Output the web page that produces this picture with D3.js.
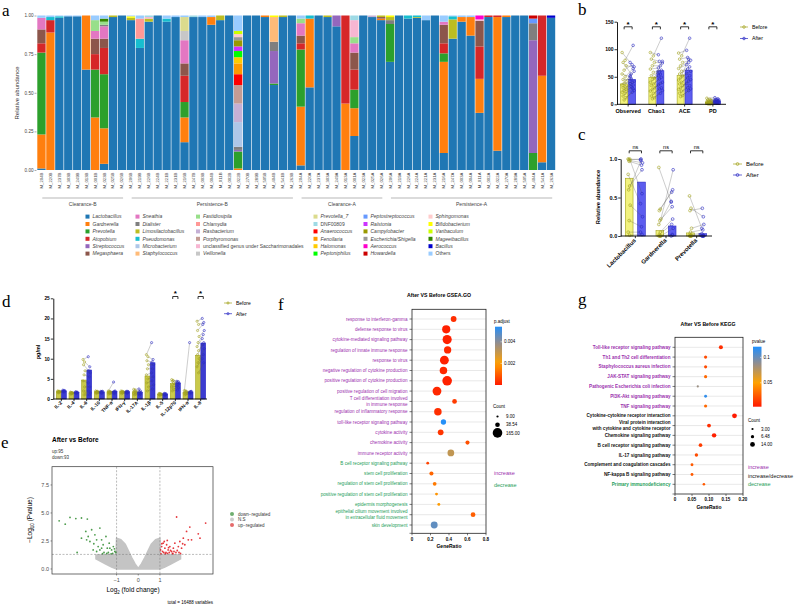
<!DOCTYPE html>
<html>
<head>
<meta charset="utf-8">
<script src="https://cdn.jsdelivr.net/npm/d3@7"></script>
<style>
  body { margin: 0; background: #fff; }
  svg { font-family: "Liberation Sans", Arial, sans-serif; }
  .letter { font-family: "Liberation Serif", "DejaVu Serif", serif; font-size: 17px; }
</style>
</head>
<body>
<svg id="fig" width="795" height="607"></svg>
<script>
// ---------- panel a data ----------
const taxa = ['Lactobacillus','Gardnerella','Prevotella','Atopobium','Streptococcus','Megasphaera',
  'Sneathia','Dialister','Limosilactobacillus','Pseudomonas','Microbacterium','Staphylococcus',
  'Fastidiosipila','Chlamydia','Rasbacterium','Porphyromonas','unclassified genus under Saccharimonadales','Veillonella',
  'Prevotella_7','DNF00809','Anaerococcus','Fenollaria','Halomonas','Peptoniphilus',
  'Peptostreptococcus','Ralstonia','Campylobacter','Escherichia/Shigella','Aerococcus','Howardella',
  'Sphingomonas','Bifidobacterium','Varibaculum','Mageeibacillus','Bacillus','Others'];
const taxaColors = ['#1f77b4','#ff7f0e','#2ca02c','#d62728','#9467bd','#8c564b',
  '#e377c2','#7f7f7f','#bcbd22','#17becf','#aec7e8','#ffbb78',
  '#98df8a','#ff9896','#c5b0d5','#c49c94','#f7b6d2','#c7c7c7',
  '#dbdb8d','#9edae5','#ff0000','#ff9900','#ffcc00','#00ff00',
  '#6699ff','#cc33ff','#999900','#999999','#ff00cc','#cc0000',
  '#ffcccc','#ffff00','#ccff00','#338800','#0000cc','#99ccff'];
const plainTaxa = ['unclassified genus under Saccharimonadales','DNF00809','Others'];
const sampleIds = ['M_204B','M_220B','M_237B','M_303B','M_249B','M_013B','M_001B','M_023B','M_025B','M_026B',
  'M_206B','M_219B','M_226B','M_224B','M_221B','M_231B','M_216B','M_247B','M_003B','M_004B',
  'M_011B','M_002B','M_022B','M_270B','M_289B','M_505B','M_404B','M_541B','M_263B',
  'M_204A','M_220A','M_237A','M_303A','M_249A','M_013A','M_001A','M_023A','M_025A','M_026A',
  'M_206A','M_219A','M_226A','M_224A','M_221A','M_231A','M_216A','M_247A','M_003A','M_004A',
  'M_011A','M_002A','M_022A','M_270A','M_289A','M_505A','M_404A','M_541A','M_263A'];
const groupNames = ['Clearance-B','Persistence-B','Clearance-A','Persistence-A'];
const groupSizes = [10, 19, 10, 19];
// [taxon index, relative abundance]; what is left goes to Others
const sampleMix = [
  [[0,.01],[1,.22],[2,.53],[3,.06],[5,.09],[6,.075]],
  [[1,.89],[3,.08],[9,.02]],
  [[0,.985],[9,.01]],
  [[0,.995]],
  [[0,.995]],
  [[0,.65],[1,.35]],
  [[1,.34],[2,.31],[3,.10],[5,.10],[6,.05],[12,.07]],
  [[0,.04],[1,.23],[2,.35],[3,.17],[5,.06],[6,.08],[7,.01],[12,.02],[33,.02]],
  [[0,.99],[8,.01]],
  [[0,1]],
  [[0,.97],[8,.015],[31,.01]],
  [[0,.79],[9,.06],[13,.13]],
  [[0,.96],[8,.02],[16,.01],[19,.01]],
  [[0,1]],
  [[0,.96],[9,.02]],
  [[0,.99]],
  [[0,.18],[1,.16],[2,.10],[3,.17],[5,.08],[6,.15],[17,.06],[18,.09]],
  [[0,.99],[19,.01]],
  [[0,.99]],
  [[0,.94],[1,.05]],
  [[0,.97],[8,.03]],
  [[0,1]],
  [[1,.01],[2,.11],[4,.01],[7,.02],[10,.16],[14,.12],[15,.12],[20,.07],[21,.07],[22,.04],[23,.04],[25,.03],[26,.04],[27,.02],[30,.02],[32,.02]],
  [[0,1]],
  [[0,1]],
  [[0,.99],[1,.01]],
  [[0,.55],[2,.01],[4,.21],[7,.06],[11,.16],[31,.01]],
  [[0,.99],[8,.01]],
  [[0,1]],
  [[0,.03],[1,.38],[2,.37],[3,.04],[5,.05],[6,.08],[12,.03]],
  [[0,.535],[1,.445],[9,.02]],
  [[0,1]],
  [[0,.99],[8,.01]],
  [[0,.93],[4,.07]],
  [[1,.43],[3,.57]],
  [[0,.22],[1,.18],[2,.12],[3,.13],[5,.11],[6,.06],[12,.04],[16,.11],[19,.03]],
  [[0,1]],
  [[0,.99],[14,.01]],
  [[0,.97],[1,.01],[5,.01],[8,.01]],
  [[0,.70],[2,.245],[7,.025],[8,.02],[31,.01]],
  [[0,1]],
  [[0,.98],[9,.02]],
  [[0,.985],[8,.005],[9,.01]],
  [[0,.97]],
  [[0,1]],
  [[0,.11],[1,.59],[2,.055],[3,.065],[5,.12],[6,.02]],
  [[0,.85],[8,.125],[9,.02]],
  [[0,.96],[1,.03]],
  [[0,.87],[1,.12]],
  [[0,.37],[1,.22],[3,.21],[5,.166],[16,.009],[28,.025]],
  [[0,.99],[3,.01]],
  [[0,.125],[1,.865],[3,.01]],
  [[0,.99],[1,.01]],
  [[0,1]],
  [[0,1]],
  [[2,.11],[4,.73],[7,.11],[24,.03],[29,.02]],
  [[0,.05],[1,.56],[3,.39]],
  [[0,.985],[34,.015]]
];

// ---------- panel b data ----------
const alphaCats = ['Observed','Chao1','ACE','PD'];
const alphaBarBefore = [37, 49, 52, 3];
const alphaBarAfter = [45, 61, 62, 6];
const observedBefore = [94, 80, 76, 70, 62, 55, 50, 45, 42, 38, 35, 32, 30, 27, 25, 22, 20, 15, 12, 8];
const observedAfter = [76, 107, 55, 68, 72, 50, 65, 45, 60, 40, 52, 35, 47, 42, 30, 38, 28, 32, 25, 22];
const chao1Before = [94, 88, 82, 76, 70, 64, 58, 52, 48, 45, 40, 37, 34, 30, 27, 24, 20, 15, 12, 10];
const chao1After = [90, 120, 78, 75, 70, 66, 62, 58, 78, 55, 52, 49, 46, 40, 38, 35, 30, 28, 25, 20];
const aceBefore = [93, 88, 82, 76, 70, 65, 60, 55, 52, 48, 44, 40, 37, 34, 30, 27, 24, 20, 16, 14];
const aceAfter = [98, 120, 85, 80, 76, 72, 68, 64, 60, 82, 56, 52, 48, 45, 42, 38, 34, 30, 28, 25];
const pdBefore = [11, 9, 8, 7, 6, 5, 5, 4, 4, 3, 3, 3, 2, 2, 2, 2, 1, 1, 1, 1];
const pdAfter = [12, 10, 9, 8, 8, 7, 7, 6, 6, 5, 5, 5, 4, 4, 4, 3, 3, 3, 2, 2];

// ---------- panel c data ----------
const genusCats = ['Lactobacillus','Gardnerella','Prevotella'];
const genusBarBefore = [0.75, 0.07, 0.04];
const genusBarAfter = [0.70, 0.13, 0.03];
const lactoBefore = [1.0, 1.0, 0.99, 0.98, 0.97, 0.8, 0.65, 0.6, 0.4, 0.2, 0.05, 0.01];
const lactoAfter = [0.99, 0.55, 1.0, 0.95, 0.92, 0.42, 0.86, 0.98, 0.25, 0.12, 0.05, 0.02];
const gardBefore = [0.89, 0.35, 0.33, 0.22, 0.20, 0.15, 0.05, 0.02, 0.0, 0.0, 0.0, 0.0];
const gardAfter = [0.44, 0.60, 0.57, 0.86, 0.38, 0.45, 0.22, 0.15, 0.10, 0.02, 0.0, 0.01];
const prevBefore = [0.52, 0.36, 0.33, 0.10, 0.05, 0.02, 0.01, 0.0, 0.0, 0.0, 0.0, 0.0];
const prevAfter = [0.10, 0.25, 0.36, 0.15, 0.08, 0.03, 0.01, 0.0, 0.0, 0.0, 0.0, 0.0];

// ---------- panel d data ----------
const cytokines = ['IL-2','IL-4','IL-6','IL-10','TNF-α','IFN-γ','IL-17A','IL-1β','IL-5','IL-12p70','IFN-α','IL-8'];
const cytoBarBefore = [1.8, 1.5, 4.7, 1.8, 1.8, 1.8, 1.8, 5.7, 1.2, 3.8, 1.6, 10.8];
const cytoBarAfter = [2.0, 1.6, 7.2, 1.7, 1.9, 1.8, 1.7, 9.0, 1.2, 4.0, 1.7, 13.9];
const cytoBefore = [
  [2.0, 1.9, 1.9, 1.8, 1.8, 1.7, 1.6, 1.5],
  [1.7, 1.6, 1.6, 1.5, 1.5, 1.4, 1.3, 1.2],
  [9.8, 9.2, 8.5, 7.0, 6.0, 4.5, 3.0, 2.0, 1.5, 1.0],
  [2.0, 1.9, 1.8, 1.8, 1.7, 1.6, 1.5, 1.4],
  [2.0, 1.9, 1.8, 1.7, 1.6, 1.5, 1.4, 1.2],
  [2.0, 1.9, 1.8, 1.8, 1.7, 1.6, 1.5, 1.3],
  [2.4, 2.2, 2.0, 1.8, 1.6, 1.4, 1.2, 1.0],
  [11.0, 10.5, 9.5, 8.5, 7.5, 6.0, 5.0, 4.0, 3.0, 2.0],
  [1.4, 1.3, 1.3, 1.2, 1.2, 1.1, 1.0, 0.9],
  [4.8, 4.6, 4.4, 4.0, 3.6, 3.0, 2.5, 2.0],
  [2.1, 2.0, 1.9, 1.8, 1.6, 1.4, 1.2, 1.0],
  [19.3, 18.5, 17.0, 15.5, 14.0, 13.0, 12.0, 11.0, 10.0, 9.0, 8.0, 6.5]
];
const cytoAfter = [
  [2.2, 2.1, 2.0, 2.0, 1.9, 1.9, 1.8, 1.7],
  [1.8, 1.7, 1.7, 1.6, 1.6, 1.5, 1.5, 1.4],
  [10.5, 8.0, 7.0, 6.5, 5.5, 4.0, 3.0, 2.0, 1.5, 1.0],
  [1.9, 1.9, 1.8, 1.8, 1.7, 1.6, 1.5, 1.4],
  [4.2, 2.0, 1.9, 1.8, 1.7, 1.6, 1.5, 1.3],
  [1.9, 1.9, 1.8, 1.8, 1.7, 1.6, 1.5, 1.4],
  [2.5, 2.0, 1.8, 1.6, 1.5, 1.4, 1.2, 1.0],
  [14.0, 9.8, 9.2, 8.5, 7.5, 6.5, 5.5, 4.5, 3.5, 2.5],
  [1.4, 1.3, 1.3, 1.2, 1.2, 1.1, 1.0, 0.9],
  [4.4, 4.3, 4.1, 3.9, 3.6, 3.2, 2.8, 2.2],
  [14.0, 1.9, 1.8, 1.8, 1.7, 1.6, 1.5, 1.3],
  [20.0, 19.0, 18.5, 17.0, 16.0, 15.0, 14.0, 13.5, 12.5, 11.0, 10.0, 9.0]
];

// ---------- panel e data ----------
const downGenes = [[-3.65,4.3],[-3.37,4.0],[-3.15,4.6],[-2.88,4.5],[-2.62,4.55],[-2.35,4.45],[-2.82,1.47],
  [-2.62,2.75],[-2.42,3.35],[-2.31,2.9],[-2.15,3.5],[-2.0,3.05],[-1.92,2.6],[-1.77,3.65],[-1.69,2.6],
  [-1.62,2.16],[-1.49,2.9],[-1.43,1.86],[-1.34,2.3],[-1.23,1.7],[-1.15,2.0],[-1.08,1.56],[-1.77,1.7],
  [-1.58,1.47],[-1.38,1.47],[-1.18,1.4],[-1.85,2.0],[-2.05,2.25],[-2.23,2.45],[-1.92,1.56],[-1.69,1.86],
  [-1.31,1.86],[-1.03,1.47],[-2.38,2.6],[-2.08,1.7],[-1.25,1.35],[-1.45,1.38],[-1.65,1.36],[-1.1,1.8]];
const upGenes = [[1.08,2.0],[1.15,2.3],[1.23,1.86],[1.31,2.16],[1.38,1.7],[1.46,2.0],[1.54,1.56],[1.62,1.86],
  [1.69,2.3],[1.77,4.64],[1.85,2.0],[1.92,2.45],[2.0,1.86],[2.08,2.75],[2.15,2.16],[2.23,3.35],[2.38,3.74],
  [2.31,2.6],[2.77,3.14],[2.85,2.75],[3.11,4.1],[1.12,1.56],[1.18,1.47],[1.28,1.47],[1.35,1.4],[1.43,1.47],
  [1.49,1.65],[1.58,1.4],[1.65,1.56],[1.74,1.47],[1.8,1.65],[1.88,1.47],[1.03,1.7],[1.09,2.25],[1.2,2.45],
  [1.34,2.55],[2.05,2.25],[2.46,2.6],[1.05,1.35],[1.25,1.36],[1.6,1.35],[1.95,1.38],[1.4,1.9]];
// outline of the dense grey N.S. cloud
const nsOutline = [[-1.95,1.25],[-1.02,1.3],[-1.0,2.75],[-0.8,2.6],[-0.6,2.2],[-0.45,1.6],[-0.3,1.0],
  [-0.15,0.45],[0,0.05],[0.15,0.45],[0.3,1.0],[0.45,1.6],[0.6,2.2],[0.8,2.6],[1.0,2.75],[1.02,1.3],
  [1.95,1.25],[1.95,0.9],[1.5,0.45],[1.2,0.15],[1.0,0.0],[-1.0,0.0],[-1.2,0.15],[-1.5,0.45],[-1.95,0.9]];

// ---------- panel f data ----------
const goTerms = ['response to interferon-gamma','defense response to virus','cytokine-mediated signaling pathway',
  'regulation of innate immune response','response to virus','negative regulation of cytokine production',
  'positive regulation of cytokine production','positive regulation of cell migration',
  'T cell differentiation involved\nin immune response','regulation of inflammatory response',
  'toll-like receptor signaling pathway','cytokine activity','chemokine activity','immune receptor activity',
  'B cell receptor signaling pathway','stem cell proliferation','regulation of stem cell proliferation',
  'positive regulation of stem cell proliferation','epidermis morphogenesis',
  'epithelial cilium movement involved\nin extracellular fluid movement','skin development'];
const goRatio = [0.45, 0.37, 0.38, 0.385, 0.35, 0.34, 0.38, 0.27, 0.46, 0.28, 0.34, 0.31, 0.60, 0.42, 0.17, 0.21, 0.245, 0.265, 0.29, 0.66, 0.24];
const goCount = [60, 120, 150, 95, 140, 100, 165, 140, 40, 100, 50, 60, 30, 80, 14, 30, 25, 15, 15, 40, 85];
const goPadj = [0.0003, 0.0001, 0.0001, 0.0002, 0.0001, 0.0002, 0.0001, 0.0002, 0.0005, 0.0003, 0.0054, 0.0004, 0.0008, 0.0031, 0.0006, 0.0011, 0.0014, 0.0018, 0.0019, 0.0010, 0.0046];
const goUp = [1,1,1,1,1,1,1,1,1,1,1,1,1,1,0,0,0,0,0,0,0];

// ---------- panel g data ----------
const keggTerms = ['Toll-like receptor signaling pathway','Th1 and Th2 cell differentiation','Staphylococcus aureus infection',
  'JAK-STAT signaling pathway','Pathogenic Escherichia coli infection','PI3K-Akt signaling pathway','TNF signaling pathway',
  'Cytokine-cytokine receptor interaction','Viral protein interaction\nwith cytokine and cytokine receptor',
  'Chemokine signaling pathway','B cell receptor signaling pathway','IL-17 signaling pathway',
  'Complement and coagulation cascades','NF-kappa B signaling pathway','Primary immunodeficiency'];
const keggRatio = [0.135, 0.09, 0.09, 0.09, 0.067, 0.09, 0.09, 0.175, 0.10, 0.115, 0.075, 0.063, 0.05, 0.05, 0.085];
const keggCount = [10, 6, 6, 6, 3, 5, 6, 14, 9, 12, 8, 7, 5, 5, 4];
const keggP = [0.01, 0.02, 0.02, 0.03, 0.085, 0.115, 0.03, 0.003, 0.01, 0.005, 0.015, 0.02, 0.025, 0.025, 0.025];
const keggDir = [1,1,1,1,1,1,1,0,0,0,0,0,0,0,-1];

const purple = '#9b30ae', green = '#1f9e5a';
const beforeFill = '#f2f27e', beforeLine = '#a3a31c';
const afterFill = '#5d5def', afterLine = '#2a2ac4';

const svg = d3.select('#fig');

function letter(t, x, y) {
  svg.append('text').attr('class', 'letter').attr('x', x).attr('y', y).text(t);
}

// ================= panel a =================
(function() {
  const g = svg.append('g');
  const x = d3.scaleBand().domain(sampleIds).range([37.3, 555.2]).paddingInner(0.07);
  const y = d3.scaleLinear().domain([0, 1]).range([170, 15.5]);
  const rows = sampleIds.map((id, i) => {
    const o = { id };
    taxa.forEach(t => o[t] = 0);
    let s = 0;
    sampleMix[i].forEach(([k, v]) => { o[taxa[k]] += v; s += v; });
    if (s < 1) o.Others += 1 - s;
    else taxa.forEach(t => o[t] /= s);
    return o;
  });
  const layers = d3.stack().keys(taxa)(rows);
  g.selectAll('g.layer').data(layers).join('g').attr('fill', (d, i) => taxaColors[i])
    .selectAll('rect').data(d => d.filter(s => s[1] - s[0] > 0)).join('rect')
    .attr('x', d => x(d.data.id)).attr('width', x.bandwidth())
    .attr('y', d => y(d[1])).attr('height', d => y(d[0]) - y(d[1]));

  const ax = g.append('g').attr('transform', 'translate(36.5,0)')
    .call(d3.axisLeft(y).tickValues([0, .25, .5, .75, 1]).tickFormat(d3.format('.2f')).tickSize(2).tickSizeOuter(0));
  ax.select('.domain').remove();
  ax.selectAll('line').attr('stroke', '#555').attr('stroke-width', 0.5);
  ax.selectAll('text').attr('font-size', 4.6).attr('fill', '#444').attr('x', -3);
  g.append('text').attr('transform', 'translate(19,93) rotate(-90)').attr('text-anchor', 'middle')
    .attr('font-size', 6).attr('fill', '#333').text('Relative abundance');

  g.selectAll('text.sid').data(sampleIds).join('text').attr('class', 'sid')
    .attr('transform', d => `translate(${x(d) + x.bandwidth() / 2 + 1.5},172.5) rotate(-90)`)
    .attr('text-anchor', 'end').attr('font-size', 4.3).attr('fill', '#444').text(d => d);

  let start = 0;
  groupNames.forEach((name, gi) => {
    const a = sampleIds[start], b = sampleIds[start + groupSizes[gi] - 1];
    const x0 = x(a) + 5, x1 = x(b) + x.bandwidth() - 3;
    g.append('line').attr('x1', x0).attr('x2', x1).attr('y1', 198).attr('y2', 198)
      .attr('stroke', '#888').attr('stroke-width', 0.6);
    g.append('text').attr('x', (x0 + x1) / 2).attr('y', 206).attr('text-anchor', 'middle')
      .attr('font-size', 5).attr('fill', '#444').text(name);
    start += groupSizes[gi];
  });

  const colX = [85.5, 135.5, 196, 313.5, 363.5, 428.5];
  taxa.forEach((t, k) => {
    const cx = colX[Math.floor(k / 6)], cy = 214.6 + (k % 6) * 7.4;
    g.append('rect').attr('x', cx).attr('y', cy).attr('width', 4).attr('height', 4).attr('fill', taxaColors[k]);
    g.append('text').attr('x', cx + 7).attr('y', cy + 3.8).attr('font-size', 5)
      .attr('font-style', plainTaxa.includes(t) ? 'normal' : 'italic').attr('fill', '#444').text(t);
  });
  letter('a', 2, 16);
})();

// ================= paired bar charts (b, c, d) =================
function pairedChart(o) {
  const g = svg.append('g');
  const x = d3.scaleBand().domain(o.cats).range(o.xr);
  const y = o.y;
  const cx = c => x(c) + x.bandwidth() / 2;
  const xb = c => cx(c) - o.gap / 2 - o.bw / 2;
  const xa = c => cx(c) + o.gap / 2 + o.bw / 2;
  const jit = j => ((j * 3) % 5 - 2) * o.jw;

  o.cats.forEach((c, i) => {
    g.append('rect').attr('x', xb(c) - o.bw / 2).attr('width', o.bw).attr('y', y(o.barB[i]))
      .attr('height', y(0) - y(o.barB[i])).attr('fill', o.fillB).attr('stroke', beforeLine).attr('stroke-width', 0.6);
    g.append('rect').attr('x', xa(c) - o.bw / 2).attr('width', o.bw).attr('y', y(o.barA[i]))
      .attr('height', y(0) - y(o.barA[i])).attr('fill', o.fillA).attr('stroke', afterLine).attr('stroke-width', 0.6);
    const pb = o.ptsB[i], pa = o.ptsA[i];
    pb.forEach((v, j) => {
      g.append('line').attr('x1', xb(c) + jit(j)).attr('y1', y(v)).attr('x2', xa(c) + jit(j)).attr('y2', y(pa[j]))
        .attr('stroke', '#555').attr('stroke-width', 0.3);
    });
    pb.forEach((v, j) => {
      g.append('circle').attr('cx', xb(c) + jit(j)).attr('cy', y(v)).attr('r', o.r)
        .attr('fill', 'none').attr('stroke', beforeLine).attr('stroke-width', 0.6);
    });
    pa.forEach((v, j) => {
      g.append('circle').attr('cx', xa(c) + jit(j)).attr('cy', y(v)).attr('r', o.r)
        .attr('fill', 'none').attr('stroke', afterLine).attr('stroke-width', 0.6);
    });
  });

  const ax = g.append('g').attr('transform', `translate(${o.axX},0)`)
    .call(d3.axisLeft(y).tickValues(o.ticks).tickFormat(o.fmt).tickSize(2.5).tickSizeOuter(0));
  ax.select('.domain').attr('stroke-width', 0.9);
  ax.selectAll('line').attr('stroke-width', 0.8);
  ax.selectAll('text').attr('font-size', o.fs).attr('font-weight', 'bold').attr('x', -3.5);
  g.append('line').attr('x1', o.axX).attr('x2', o.xEnd).attr('y1', y(0)).attr('y2', y(0))
    .attr('stroke', '#000').attr('stroke-width', 0.9);
  o.cats.forEach(c => {
    g.append('line').attr('x1', cx(c)).attr('x2', cx(c)).attr('y1', y(0)).attr('y2', y(0) + 2.2)
      .attr('stroke', '#000').attr('stroke-width', 0.8);
    if (o.rotate) {
      g.append('text').attr('transform', `translate(${cx(c) + 1},${y(0) + o.labDy}) rotate(-45)`)
        .attr('text-anchor', 'end').attr('font-size', o.labFs).attr('font-weight', 'bold').text(c);
    } else {
      g.append('text').attr('x', cx(c)).attr('y', y(0) + o.labDy).attr('text-anchor', 'middle')
        .attr('font-size', o.labFs).attr('font-weight', 'bold').text(c);
    }
  });
  (o.sig || []).forEach(([c, txt]) => {
    const x0 = xb(c), x1 = xa(c);
    g.append('path').attr('d', `M${x0},${o.sigY + 2.5}V${o.sigY}H${x1}V${o.sigY + 2.5}`)
      .attr('fill', 'none').attr('stroke', '#000').attr('stroke-width', 0.8);
    g.append('text').attr('x', (x0 + x1) / 2).attr('y', o.sigY - (txt === '*' ? 0.2 : 1.8))
      .attr('text-anchor', 'middle').attr('font-size', txt === '*' ? 8 : 5.5).attr('font-weight', txt === '*' ? 'bold' : 'normal')
      .text(txt);
  });
  if (o.ylab) {
    g.append('text').attr('transform', `translate(${o.ylab[1]},${o.ylab[2]}) rotate(-90)`).attr('text-anchor', 'middle')
      .attr('font-size', o.ylab[3]).attr('font-weight', 'bold').text(o.ylab[0]);
  }
  [['Before', beforeLine, 0], ['After', afterLine, 1]].forEach(([t, col, k]) => {
    const ly = o.legY + k * o.legDy;
    g.append('line').attr('x1', o.legX).attr('x2', o.legX + o.legW).attr('y1', ly).attr('y2', ly)
      .attr('stroke', col).attr('stroke-width', 0.7);
    g.append('circle').attr('cx', o.legX + o.legW / 2).attr('cy', ly).attr('r', o.r)
      .attr('fill', 'none').attr('stroke', col).attr('stroke-width', 0.7);
    g.append('text').attr('x', o.legX + o.legW + 4).attr('y', ly + 1.9).attr('font-size', o.legFs).text(t);
  });
}

// panel b
pairedChart({
  cats: alphaCats, xr: [614, 727], y: d3.scaleLinear().domain([0, 150]).range([104.3, 21.7]),
  barB: alphaBarBefore, barA: alphaBarAfter,
  ptsB: [observedBefore, chao1Before, aceBefore, pdBefore], ptsA: [observedAfter, chao1After, aceAfter, pdAfter],
  gap: 1, bw: 7, r: 1.3, jw: 1.0, fillB: beforeFill, fillA: afterFill,
  axX: 617, xEnd: 726, ticks: [0, 50, 100, 150], fmt: d3.format('d'), fs: 5,
  rotate: false, labDy: 8.6, labFs: 5.5,
  sig: alphaCats.map(c => [c, '*']), sigY: 26.8,
  legX: 740, legY: 27, legDy: 11.5, legW: 8, legFs: 5.2
});
letter('b', 578, 15);

// panel c
pairedChart({
  cats: genusCats, xr: [620, 712], y: d3.scaleLinear().domain([0, 1]).range([236, 159]),
  barB: genusBarBefore, barA: genusBarAfter,
  ptsB: [lactoBefore, gardBefore, prevBefore], ptsA: [lactoAfter, gardAfter, prevAfter],
  gap: 4.6, bw: 7.7, r: 1.4, jw: 0.5, fillB: beforeFill, fillA: afterFill,
  axX: 620.7, xEnd: 712, ticks: [0, 0.5, 1], fmt: d3.format('.1f'), fs: 5.5,
  rotate: true, labDy: 5, labFs: 6,
  sig: genusCats.map(c => [c, 'ns']), sigY: 150.8,
  ylab: ['Relative abundance', 600, 197, 5.8],
  legX: 733, legY: 164, legDy: 11, legW: 9, legFs: 6
});
letter('c', 578, 140);

// panel d
pairedChart({
  cats: cytokines, xr: [55, 207], y: d3.scaleLinear().domain([0, 25]).range([399, 298.3]),
  barB: cytoBarBefore, barA: cytoBarAfter, ptsB: cytoBefore, ptsA: cytoAfter,
  gap: 0.4, bw: 4.8, r: 1.1, jw: 0.5, fillB: '#c9c94a', fillA: '#3c3cd0',
  axX: 53.3, xEnd: 207, ticks: [0, 5, 10, 15, 20, 25], fmt: d3.format('d'), fs: 4.8,
  rotate: true, labDy: 4, labFs: 4.8,
  sig: [['IL-12p70', '*'], ['IL-8', '*']], sigY: 296.5,
  ylab: ['pg/ml', 40, 352, 5.5],
  legX: 224, legY: 303, legDy: 10.7, legW: 8, legFs: 5
});
letter('d', 2, 307);

// ================= panel e (volcano) =================
(function() {
  const g = svg.append('g');
  const x = d3.scaleLinear().domain([-3.98, 3.45]).range([52, 213]);
  const y = d3.scaleLinear().domain([-0.45, 9.13]).range([574, 466.7]);
  g.append('clipPath').attr('id', 'clipE').append('rect')
    .attr('x', 52).attr('y', 466.7).attr('width', 161).attr('height', 107.3);
  const inner = g.append('g').attr('clip-path', 'url(#clipE)');
  inner.append('path').datum(nsOutline)
    .attr('d', d3.line().x(d => x(d[0])).y(d => y(d[1])).curve(d3.curveLinearClosed))
    .attr('fill', '#c4c4c4').attr('stroke', '#c4c4c4').attr('stroke-width', 1.6).attr('stroke-linejoin', 'round');
  inner.selectAll('circle.dn').data(downGenes).join('circle').attr('class', 'dn')
    .attr('cx', d => x(d[0])).attr('cy', d => y(d[1])).attr('r', 0.9).attr('fill', '#2e8b2e').attr('opacity', 0.85);
  inner.selectAll('circle.up').data(upGenes).join('circle').attr('class', 'up')
    .attr('cx', d => x(d[0])).attr('cy', d => y(d[1])).attr('r', 0.9).attr('fill', '#e0141a').attr('opacity', 0.85);
  const dash = sel => sel.attr('stroke', '#777').attr('stroke-width', 0.5).attr('stroke-dasharray', '2,1.5');
  [-1, 1].forEach(v => inner.append('line').attr('x1', x(v)).attr('x2', x(v)).attr('y1', 466.7).attr('y2', 574).call(dash));
  inner.append('line').attr('x1', 52).attr('x2', 213).attr('y1', y(1.3)).attr('y2', y(1.3)).call(dash);
  g.append('rect').attr('x', 52).attr('y', 466.7).attr('width', 161).attr('height', 107.3)
    .attr('fill', 'none').attr('stroke', '#333').attr('stroke-width', 0.7);

  [0, 2.5, 5, 7.5].forEach(v => {
    g.append('line').attr('x1', 50.5).attr('x2', 52).attr('y1', y(v)).attr('y2', y(v)).attr('stroke', '#333').attr('stroke-width', 0.5);
    g.append('text').attr('x', 49).attr('y', y(v) + 1.9).attr('text-anchor', 'end').attr('font-size', 5.5)
      .attr('fill', '#4d4d4d').text(d3.format('.1f')(v));
  });
  [-1, 0, 1].forEach(v => {
    g.append('line').attr('x1', x(v)).attr('x2', x(v)).attr('y1', 574).attr('y2', 575.5).attr('stroke', '#333').attr('stroke-width', 0.5);
    g.append('text').attr('x', x(v)).attr('y', 581.5).attr('text-anchor', 'middle').attr('font-size', 5.5)
      .attr('fill', '#4d4d4d').text(v < 0 ? '−1' : String(v));
  });
  const yt = g.append('text').attr('transform', 'translate(32,520) rotate(-90)').attr('text-anchor', 'middle').attr('font-size', 6.5);
  yt.append('tspan').text('−Log');
  yt.append('tspan').attr('font-size', 4.5).attr('dy', 1.8).text('10');
  yt.append('tspan').attr('dy', -1.8).text(' (Pvalue)');
  const xt = g.append('text').attr('x', 133).attr('y', 592).attr('text-anchor', 'middle').attr('font-size', 6.5);
  xt.append('tspan').text('Log');
  xt.append('tspan').attr('font-size', 4.5).attr('dy', 1.8).text('2');
  xt.append('tspan').attr('dy', -1.8).text(' (fold change)');
  g.append('text').attr('x', 213).attr('y', 604).attr('text-anchor', 'end').attr('font-size', 4.5).text('total = 16488 variables');
  g.append('text').attr('x', 52).attr('y', 442).attr('font-size', 6.5).attr('font-weight', 'bold').text('After vs Before');
  g.append('text').attr('x', 52).attr('y', 452.5).attr('font-size', 4.5).attr('fill', '#333').text('up:95');
  g.append('text').attr('x', 52).attr('y', 458.5).attr('font-size', 4.5).attr('fill', '#333').text('down:93');
  [['down−regulated', '#6fae6f'], ['N.S', '#cccccc'], ['up−regulated', '#e56b6b']].forEach(([t, c], k) => {
    const ly = 514 + k * 5.5;
    g.append('circle').attr('cx', 232).attr('cy', ly).attr('r', 2).attr('fill', c);
    g.append('text').attr('x', 238).attr('y', ly + 1.6).attr('font-size', 4.5).attr('fill', '#333').text(t);
  });
  letter('e', 1, 448);
})();

// ================= enrichment dot plots (f, g) =================
function dotPlot(o) {
  const g = svg.append('g');
  const x = d3.scaleLinear().domain(o.xd).range([o.left, o.right]);
  const y = d3.scalePoint().domain(o.terms).range(o.yr);
  const r = d3.scaleSqrt().domain([0, o.cmax]).range([0, o.rmax]);
  const col = d3.scaleLinear().domain(o.cd).range(['#ff1a00', '#ffa200', '#8c8c96', '#1e90ff']);

  o.terms.forEach(t => {
    g.append('line').attr('x1', o.left).attr('x2', o.right).attr('y1', y(t)).attr('y2', y(t))
      .attr('stroke', '#d9d9d9').attr('stroke-width', 0.6);
    g.append('line').attr('x1', o.left - 2.5).attr('x2', o.left).attr('y1', y(t)).attr('y2', y(t))
      .attr('stroke', '#222').attr('stroke-width', 0.6);
  });
  g.append('line').attr('x1', o.left - 2.5).attr('x2', o.left).attr('y1', o.bottom).attr('y2', o.bottom)
    .attr('stroke', '#222').attr('stroke-width', 0.6);
  g.append('rect').attr('x', o.left).attr('y', o.top).attr('width', o.right - o.left).attr('height', o.bottom - o.top)
    .attr('fill', 'none').attr('stroke', '#222').attr('stroke-width', 0.8);

  o.terms.forEach((t, i) => {
    const lines = t.split('\n');
    const tx = g.append('text').attr('x', o.left - 4.5).attr('y', y(t) + 1.6 - (lines.length - 1) * 2.9)
      .attr('text-anchor', 'end').attr('font-size', o.fs).attr('font-weight', o.fw).attr('fill', o.labCol(i));
    lines.forEach((l, k) => tx.append('tspan').attr('x', o.left - 4.5).attr('dy', k ? 5.8 : 0).text(l));
    g.append('circle').attr('cx', x(o.ratio[i])).attr('cy', y(t)).attr('r', r(o.count[i])).attr('fill', col(o.p[i]));
  });

  o.xticks.forEach(v => {
    g.append('line').attr('x1', x(v)).attr('x2', x(v)).attr('y1', o.bottom).attr('y2', o.bottom + 2)
      .attr('stroke', '#222').attr('stroke-width', 0.6);
    g.append('text').attr('x', x(v)).attr('y', o.bottom + 7.3).attr('text-anchor', 'middle').attr('font-size', 4.5)
      .attr('font-weight', 'bold').text(o.xfmt(v));
  });
  g.append('text').attr('x', (o.left + o.right) / 2).attr('y', o.bottom + 14.5).attr('text-anchor', 'middle')
    .attr('font-size', 5).attr('font-weight', 'bold').text('GeneRatio');
  g.append('text').attr('x', o.titleX).attr('y', o.titleY).attr('text-anchor', 'middle').attr('font-size', 5.2)
    .attr('font-weight', 'bold').text(o.title);

  // colour bar
  const gid = 'grad' + o.id;
  const grad = svg.append('defs').append('linearGradient').attr('id', gid)
    .attr('x1', 0).attr('x2', 0).attr('y1', 1).attr('y2', 0);
  const cb = o.cb;
  d3.range(0, 1.0001, 0.1).forEach(f => {
    const v = cb.lo + f * (cb.hi - cb.lo);
    grad.append('stop').attr('offset', f).attr('stop-color', col(v));
  });
  const cbY = d3.scaleLinear().domain([cb.lo, cb.hi]).range([cb.y1, cb.y0]);
  g.append('rect').attr('x', cb.x).attr('y', cb.y0).attr('width', cb.w).attr('height', cb.y1 - cb.y0).attr('fill', `url(#${gid})`);
  g.append('text').attr('x', cb.x - 1).attr('y', cb.y0 - 3.5).attr('font-size', 4.5).text(o.pName);
  cb.ticks.forEach(([v, lab]) => {
    g.append('line').attr('x1', cb.x + cb.w - 1.5).attr('x2', cb.x + cb.w).attr('y1', cbY(v)).attr('y2', cbY(v))
      .attr('stroke', '#fff').attr('stroke-width', 0.5);
    g.append('text').attr('x', cb.x + cb.w + 2).attr('y', cbY(v) + 1.6).attr('font-size', 4.5).text(lab);
  });
  // size legend
  g.append('text').attr('x', o.cl.x - 1).attr('y', o.cl.y).attr('font-size', 4.5).text('Count');
  o.cl.vals.forEach((v, k) => {
    const ly = o.cl.y + o.cl.y0 + k * o.cl.dy;
    g.append('circle').attr('cx', o.cl.x + 3.5).attr('cy', ly).attr('r', r(v)).attr('fill', '#000');
    g.append('text').attr('x', o.cl.x + 12).attr('y', ly + 1.6).attr('font-size', 4.5).text(d3.format('.2f')(v));
  });
  o.notes.forEach(([t, c, nx, ny]) => {
    g.append('text').attr('x', nx).attr('y', ny).attr('font-size', 5.5).attr('fill', c).text(t);
  });
}

dotPlot({
  id: 'f', terms: goTerms, ratio: goRatio, count: goCount, p: goPadj,
  xd: [0, 0.8], left: 412, right: 486, top: 309.3, bottom: 533.3, yr: [319, 525],
  cmax: 165, rmax: 4.8, cd: [0, 0.002, 0.004, 0.0055],
  fs: 4.6, fw: 'normal', labCol: i => goUp[i] ? purple : green,
  xticks: [0, 0.2, 0.4, 0.6, 0.8], xfmt: v => v === 0 ? '0' : d3.format('.1f')(v),
  title: 'After VS Before GSEA.GO', titleX: 439, titleY: 297,
  pName: 'p.adjust',
  cb: { x: 495, w: 7, y0: 326.7, y1: 385, lo: 0, hi: 0.0054, ticks: [[0.004, '0.004'], [0.002, '0.002']] },
  cl: { x: 494, y: 408, y0: 8.5, dy: 8.2, vals: [9, 38.54, 165] },
  notes: [['increase', purple, 494, 475], ['decrease', green, 494, 487]]
});
letter('f', 278, 310);

dotPlot({
  id: 'g', terms: keggTerms, ratio: keggRatio, count: keggCount, p: keggP,
  xd: [0, 0.2], left: 675, right: 743, top: 337.3, bottom: 494, yr: [347.3, 484.3],
  cmax: 14, rmax: 2.4, cd: [0.003, 0.05, 0.09, 0.121],
  fs: 4.6, fw: 'bold', labCol: i => keggDir[i] > 0 ? purple : (keggDir[i] < 0 ? green : '#111'),
  xticks: [0, 0.05, 0.1, 0.15, 0.2], xfmt: v => v === 0 ? '0' : d3.format('.2f')(v),
  title: 'After VS Before KEGG', titleX: 708, titleY: 326,
  pName: 'pvalue',
  cb: { x: 753, w: 8.5, y0: 346.7, y1: 406.7, lo: 0.003, hi: 0.121, ticks: [[0.1, '0.1'], [0.05, '0.05']] },
  cl: { x: 749, y: 422, y0: 7, dy: 7.7, vals: [3, 6.48, 14] },
  notes: [['increase', purple, 748, 469], ['increase/decrease', '#111', 748, 477.5], ['decrease', green, 748, 486]]
});
letter('g', 578, 305);
</script>
</body>
</html>
